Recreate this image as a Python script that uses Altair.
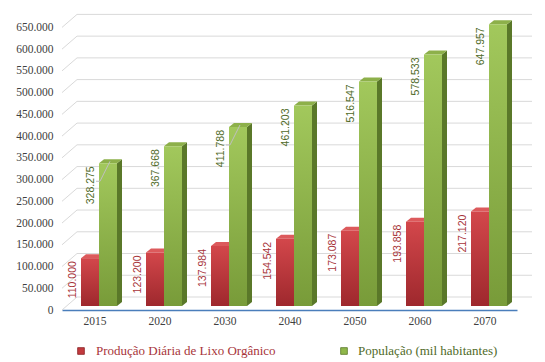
import json
import altair as alt
import pandas as pd

# ---------------- data ----------------
YEARS = ["2015", "2020", "2030", "2040", "2050", "2060", "2070"]
LIXO = [110000, 123200, 137984, 154542, 173087, 193858, 217120]
POP = [328275, 367668, 411788, 461203, 516547, 578533, 647957]
SERIES = ["Produção Diária de Lixo Orgânico", "População (mil habitantes)"]
Y_TICKS = list(range(0, 650001, 50000))
LEADER_YEARS = ["2015", "2030"]   # population labels with a leader line

# ---------------- geometry / style ----------------
PLOT_W, PLOT_H = 455, 300
X_MAX, Y_MAX = len(YEARS), 690000
UX = X_MAX / PLOT_W      # x data units per pixel
UY = Y_MAX / PLOT_H      # y data units per pixel

WALL_DX, WALL_DY = 15, 13      # back wall offset (px)
BASE = 4                       # bar base above front floor (px)
BAR_W = 18
BAR_OFF = -13.5                # red bar left edge relative to category centre (px)
SIDE_DX, SIDE_DY = 5, 4        # 3d depth of the bars (px)

FONT = "Liberation Serif"
LABEL_FONT = "Liberation Sans"
RED_TXT, GREEN_TXT = "#a8343a", "#4f6a28"
FACE = {
    "red": {"top": "#dc5a5c", "side": "#8a2326", "g0": "#d3474b", "g1": "#9e282d", "txt": RED_TXT},
    "green": {"top": "#8db04a", "side": "#5a7829", "g0": "#a2c85c", "g1": "#789b39", "txt": GREEN_TXT},
}

xscale = alt.Scale(domain=[0, X_MAX], nice=False, zero=False)
yscale = alt.Scale(domain=[0, Y_MAX], nice=False, zero=False)

x_axis = alt.Axis(
    values=[i + 0.5 for i in range(len(YEARS))],
    labelExpr=f"{json.dumps(YEARS)}[floor(datum.value)]",
    grid=False, ticks=False, domainColor="#4a7ebb", domainWidth=1.5,
    labelFont=FONT, labelFontSize=11.5, labelColor="#404040", labelPadding=5,
    title=None,
)
y_axis = alt.Axis(
    values=Y_TICKS,
    labelExpr="datum.value == 0 ? '0' : format(datum.value / 1000, '.3f')",
    grid=False, ticks=False, domain=False,
    labelFont=FONT, labelFontSize=11.5, labelColor="#404040", labelPadding=9,
    title=None,
)


def X(f):
    return alt.X(f"{f}:Q", scale=xscale, axis=x_axis)


def Y(f):
    return alt.Y(f"{f}:Q", scale=yscale, axis=y_axis)


# ---------------- gridlines (back wall + diagonal to front) ----------------
g_rows = []
for v in Y_TICKS:
    vb = v + WALL_DY * UY
    g_rows += [
        {"id": f"h{v}", "o": 0, "x": WALL_DX * UX, "y": vb},
        {"id": f"h{v}", "o": 1, "x": X_MAX + WALL_DX * UX, "y": vb},
        {"id": f"d{v}", "o": 0, "x": 0, "y": v},
        {"id": f"d{v}", "o": 1, "x": WALL_DX * UX, "y": vb},
    ]
grid = alt.Chart(pd.DataFrame(g_rows)).mark_line(color="#d9d9d9", strokeWidth=1).encode(
    x=X("x"), y=Y("y"), detail="id:N", order="o:Q"
)

# ---------------- bars ----------------
front_rows, face_rows, label_rows, leader_rows = [], [], [], []
for i, yr in enumerate(YEARS):
    c = i + 0.5
    for k, (key, vals) in enumerate([("red", LIXO), ("green", POP)]):
        val = vals[i]
        a = c + (BAR_OFF + k * BAR_W) * UX
        b = a + BAR_W * UX
        y0 = BASE * UY
        vt = val + y0
        sdx, sdy = SIDE_DX * UX, SIDE_DY * UY
        front_rows.append({"s": key, "x": a, "x2": b, "y": y0, "y2": vt})
        sid = f"{key}{i}side"
        face_rows += [
            {"id": sid, "x": b, "y": y0, "y2": vt, "fill": FACE[key]["side"]},
            {"id": sid, "x": b + sdx, "y": y0 + sdy, "y2": vt + sdy, "fill": FACE[key]["side"]},
        ]
        tid = f"{key}{i}top"
        face_rows += [
            {"id": tid, "x": a, "y": vt, "y2": vt, "fill": FACE[key]["top"]},
            {"id": tid, "x": a + sdx, "y": vt, "y2": vt + sdy, "fill": FACE[key]["top"]},
            {"id": tid, "x": b, "y": vt, "y2": vt + sdy, "fill": FACE[key]["top"]},
            {"id": tid, "x": b + sdx, "y": vt + sdy, "y2": vt + sdy, "fill": FACE[key]["top"]},
        ]
        label_rows.append({"s": key, "x": a, "y": vt, "v": val})
        if key == "green" and yr in LEADER_YEARS:
            lid = f"lead{i}"
            leader_rows += [
                {"id": lid, "o": 0, "x": a - 3 * UX, "y": vt - 18 * UY},
                {"id": lid, "o": 1, "x": a + 1 * UX, "y": vt - 18 * UY},
                {"id": lid, "o": 2, "x": a + 11 * UX, "y": vt + 2 * UY},
            ]

faces = alt.Chart(pd.DataFrame(face_rows)).mark_area(interpolate="linear").encode(
    x=X("x"), y=Y("y"), y2=alt.Y2("y2:Q"), detail="id:N",
    color=alt.Color("fill:N", scale=None),
)

front_df = pd.DataFrame(front_rows)
fronts = []
for key in ["red", "green"]:
    grad = alt.LinearGradient(
        gradient="linear", x1=0, x2=0, y1=0, y2=1,
        stops=[alt.GradientStop(offset=0, color=FACE[key]["g0"]),
               alt.GradientStop(offset=1, color=FACE[key]["g1"])],
    )
    fronts.append(
        alt.Chart(front_df[front_df.s == key]).mark_rect(fill=grad).encode(
            x=X("x"), x2=alt.X2("x2:Q"), y=Y("y"), y2=alt.Y2("y2:Q")
        )
    )

leaders = alt.Chart(pd.DataFrame(leader_rows)).mark_line(color="#bfbfbf", strokeWidth=1).encode(
    x=X("x"), y=Y("y"), detail="id:N", order="o:Q"
)

lab_df = pd.DataFrame(label_rows)
labels = []
for key in ["red", "green"]:
    labels.append(
        alt.Chart(lab_df[lab_df.s == key]).mark_text(
            angle=270, align="right", baseline="middle", dx=-3, dy=-8,
            font=LABEL_FONT, fontSize=10.5, color=FACE[key]["txt"],
        ).encode(
            x=X("x"), y=Y("y"),
            text=alt.Text("label:N"),
        ).transform_calculate(label="format(datum.v / 1000, '.3f')")
    )

# ---------------- legend ----------------
leg_df = pd.DataFrame({"name": SERIES})
legend = []
for idx, (key, sx, tx, col) in enumerate([("red", 19, 34, "#c23a3e"), ("green", 282, 296, "#8fb74a")]):
    sub = leg_df.iloc[[idx]]
    legend.append(alt.Chart(sub).mark_square(size=45, color=col, stroke=FACE[key]["side"],
                                             strokeWidth=0.8, opacity=1).encode(
        x=alt.value(sx), y=alt.value(341)))
    legend.append(alt.Chart(sub).mark_text(align="left", baseline="middle", font=FONT,
                                           fontSize=13, color=FACE[key]["txt"]).encode(
        x=alt.value(tx), y=alt.value(341), text="name:N"))

chart = alt.layer(grid, faces, *fronts, leaders, *labels, *legend).properties(
    width=PLOT_W, height=PLOT_H,
    padding={"left": 54, "top": 2, "right": 20, "bottom": 50},
    autosize=alt.AutoSizeParams(type="none"),
).configure_view(stroke=None).configure_axis(labelFont=FONT)

chart.save("out.html", embed_options={"renderer": "svg", "actions": False})
